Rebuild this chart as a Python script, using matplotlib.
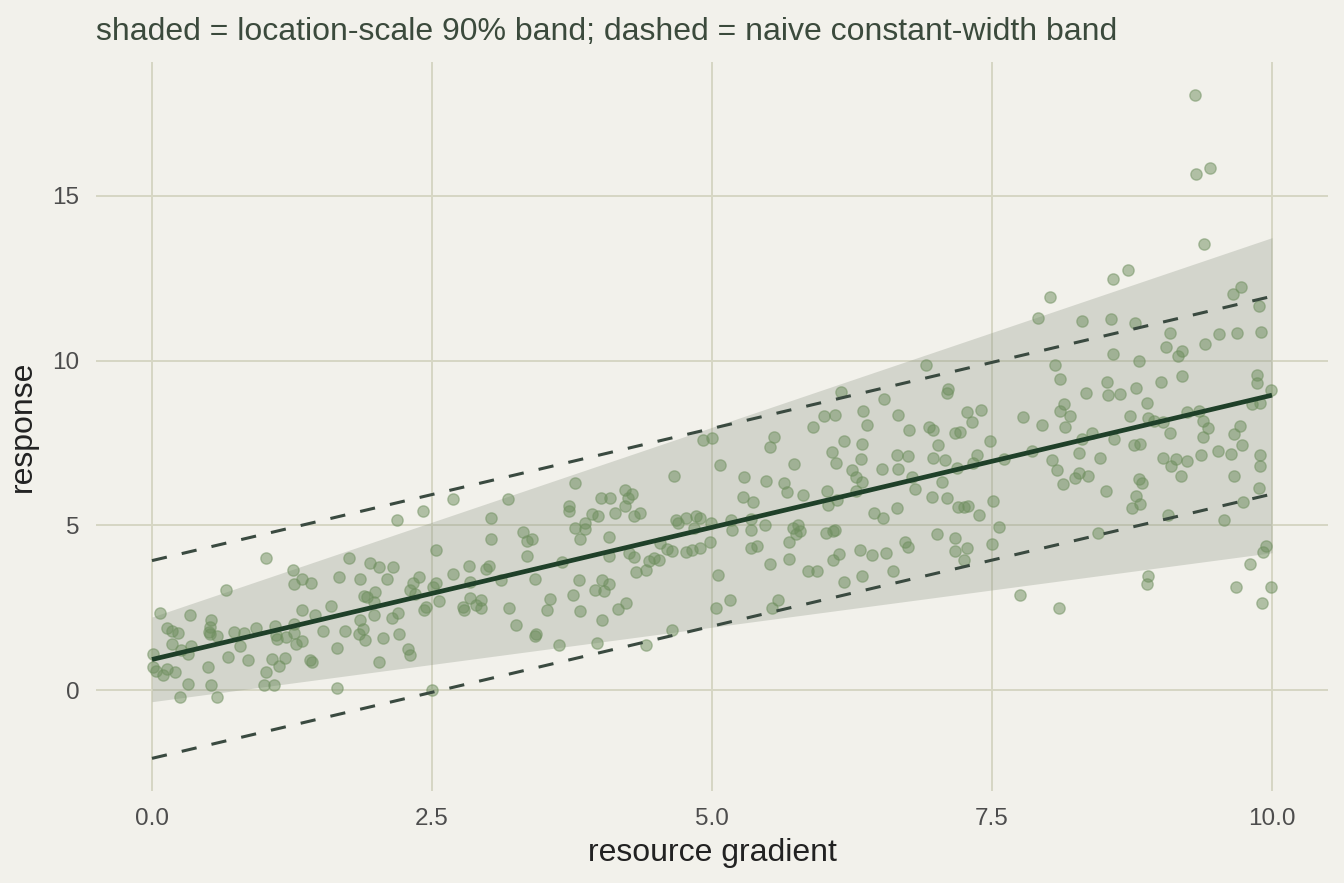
import numpy as np
import matplotlib.pyplot as plt

# scatter points (resource gradient, response)
gx = [1.02, 1.26, 1.27, 1.34, 1.42, 1.67, 0.66, 0.07, 0.34, 0.53, 0.52, 0.13, 0.18, 0.23, 0.51,
      0.52, 0.58, 0.73, 0.82, 0.93, 1.10, 1.11, 1.12, 1.20, 1.27, 1.27, 1.29, 1.34, 1.34, 1.46,
      1.53, 1.60, 1.65, 0.18, 0.26, 0.35, 0.32, 0.79, 0.01, 0.01, 0.04, 0.10, 0.13, 0.21, 0.50,
      0.68, 0.86, 1.07, 1.19, 1.02, 1.13, 1.41, 1.43, 0.32, 0.53, 1.00, 1.09, 0.25, 0.58, 1.65,
      # 1.6 - 3.3
      2.69, 3.18, 2.42, 2.19, 3.03, 3.31, 3.35, 3.35, 3.03, 2.54, 1.76, 1.95, 2.03, 2.15, 1.86,
      2.10, 2.38, 2.33, 2.30, 2.35, 2.51, 2.54, 2.69, 2.83, 2.98, 3.01, 2.84, 3.12, 1.89, 1.92,
      1.99, 1.98, 1.86, 1.98, 2.14, 2.20, 1.88, 1.85, 1.90, 1.72, 2.06, 2.21, 2.29, 2.30, 2.03,
      2.43, 2.45, 2.56, 2.78, 2.79, 2.84, 2.89, 2.94, 2.94, 3.19, 3.25, 2.50,
      # 3.3 - 5.0
      4.92, 5.00, 5.07, 4.66, 3.78, 4.22, 4.29, 4.25, 4.01, 4.09, 3.72, 3.72, 3.93, 3.98, 4.13,
      4.22, 4.30, 4.36, 3.87, 3.78, 3.87, 3.82, 4.08, 3.39, 4.68, 4.70, 4.77, 4.86, 4.89, 4.84,
      4.99, 4.54, 4.60, 4.64, 4.77, 4.82, 4.89, 4.98, 4.26, 4.30, 4.08, 3.66, 4.44, 4.48, 4.53,
      4.32, 4.41, 3.42, 3.81, 4.02, 4.08, 3.96, 4.04, 3.76, 3.55, 3.53, 3.82, 4.16, 4.23, 4.02,
      5.05, 5.04, 3.43, 3.42, 3.63, 3.97, 4.41, 4.64,
      # 5.0 - 6.8
      6.15, 6.54, 6.00, 6.10, 6.35, 6.38, 6.66, 6.76, 5.90, 5.55, 5.52, 6.18, 6.34, 6.07, 6.11,
      6.33, 6.65, 6.75, 6.52, 6.66, 6.25, 6.29, 6.34, 6.29, 5.73, 5.29, 5.48, 5.64, 5.67, 5.81,
      6.03, 6.04, 6.12, 5.28, 5.37, 6.45, 6.53, 6.65, 5.17, 5.18, 5.35, 5.35, 5.47, 5.72, 5.77,
      5.75, 5.79, 6.02, 6.08, 6.10, 5.35, 5.40, 5.69, 5.69, 5.52, 6.13, 6.08, 6.32, 6.43, 6.55,
      6.72, 6.75, 5.86, 5.94, 6.18, 6.34, 6.62, 5.16, 5.59, 5.54,
      # 6.8 - 8.4
      8.02, 7.91, 8.30, 6.91, 8.06, 8.11, 8.34, 7.11, 7.10, 8.14, 8.11, 8.20, 8.15, 7.78, 7.95,
      7.28, 7.40, 7.32, 6.94, 6.97, 7.17, 7.21, 7.48, 7.02, 6.97, 7.08, 7.19, 7.33, 7.37, 7.61,
      7.86, 8.30, 8.39, 8.28, 8.46, 8.04, 8.08, 8.24, 8.28, 8.36, 8.13, 6.79, 6.81, 7.05, 6.96,
      7.10, 7.20, 7.25, 7.29, 7.38, 7.51, 7.56, 7.01, 7.17, 7.17, 7.28, 7.25, 7.50, 8.45, 7.75,
      8.10,
      # 8.4 - 10
      9.31, 9.32, 9.45, 9.39, 8.58, 8.71, 9.72, 9.65, 9.88, 8.56, 8.78, 9.09, 9.05, 9.16, 9.20,
      9.40, 9.53, 9.69, 9.90, 8.58, 8.81, 8.53, 8.54, 8.64, 8.79, 8.88, 9.01, 9.20, 9.87, 9.87,
      9.99, 9.82, 9.89, 8.73, 8.89, 8.95, 9.03, 9.24, 9.35, 9.38, 9.43, 9.09, 9.71, 9.66, 8.59,
      8.77, 8.82, 9.38, 9.73, 9.03, 9.14, 9.10, 9.24, 9.37, 9.52, 9.63, 9.89, 9.89, 9.19, 9.66,
      8.81, 8.84, 8.52, 8.79, 8.82, 8.75, 9.07, 9.57, 9.74, 9.88, 9.95, 9.92, 9.80, 8.89, 8.88,
      9.68, 9.99, 9.91]
gy = [4.02, 3.66, 3.21, 3.38, 3.25, 3.43, 3.05, 2.34, 2.28, 2.12, 1.92, 1.89, 1.80, 1.72, 1.77,
      1.69, 1.63, 1.75, 1.74, 1.89, 1.95, 1.67, 1.54, 1.61, 2.00, 1.72, 1.39, 1.50, 2.44, 2.28,
      1.78, 2.55, 1.27, 1.41, 1.21, 1.35, 1.11, 1.34, 1.11, 0.71, 0.59, 0.47, 0.65, 0.54, 0.71,
      1.00, 0.90, 0.93, 0.97, 0.56, 0.74, 0.91, 0.84, 0.20, 0.15, 0.17, 0.17, -0.20, -0.22, 0.08,
      5.79, 5.79, 5.44, 5.15, 5.22, 4.80, 4.52, 4.06, 4.58, 4.26, 4.02, 3.87, 3.74, 3.74, 3.37,
      3.37, 3.43, 3.25, 3.05, 2.93, 3.13, 3.25, 3.53, 3.78, 3.68, 3.78, 3.29, 3.33, 2.85, 2.83,
      2.97, 2.67, 2.14, 2.29, 2.18, 2.34, 1.87, 1.71, 1.51, 1.79, 1.58, 1.69, 1.25, 1.06, 0.84,
      2.43, 2.52, 2.70, 2.52, 2.42, 2.80, 2.57, 2.73, 2.48, 2.48, 1.97, 0.00,
      7.60, 7.66, 6.84, 6.50, 6.28, 6.08, 5.96, 5.83, 5.83, 5.83, 5.58, 5.45, 5.35, 5.28, 5.37,
      5.59, 5.28, 5.37, 5.08, 4.92, 4.89, 4.59, 4.64, 4.59, 5.17, 5.07, 5.23, 5.27, 5.23, 4.93,
      5.08, 4.47, 4.27, 4.22, 4.18, 4.24, 4.30, 4.49, 4.17, 4.04, 4.07, 3.90, 3.91, 4.00, 3.94,
      3.59, 3.64, 3.38, 3.33, 3.33, 3.21, 3.05, 3.01, 2.88, 2.77, 2.42, 2.40, 2.47, 2.64, 2.14,
      3.50, 2.50, 1.70, 1.63, 1.37, 1.44, 1.37, 1.81,
      9.04, 8.83, 8.31, 8.34, 8.46, 8.04, 8.34, 7.90, 7.98, 7.68, 7.37, 7.55, 7.47, 7.23, 6.89,
      7.02, 7.15, 7.11, 6.70, 6.71, 6.69, 6.48, 6.32, 6.04, 6.85, 6.46, 6.36, 6.30, 6.00, 5.91,
      6.05, 5.61, 5.77, 5.86, 5.70, 5.38, 5.21, 5.52, 5.15, 4.87, 5.19, 4.87, 5.00, 4.93, 5.00,
      4.75, 4.83, 4.77, 4.82, 4.87, 4.31, 4.38, 4.48, 3.98, 3.83, 4.12, 3.94, 4.26, 4.11, 4.16,
      4.48, 4.34, 3.62, 3.62, 3.27, 3.45, 3.61, 2.75, 2.73, 2.48,
      11.94, 11.28, 11.21, 9.86, 9.86, 9.43, 9.03, 9.14, 9.02, 8.69, 8.46, 8.32, 7.98, 8.30, 8.04,
      8.45, 8.49, 8.13, 7.98, 7.88, 7.81, 7.82, 7.57, 7.44, 7.05, 6.98, 6.75, 6.89, 7.14, 7.02,
      7.25, 7.62, 7.81, 7.19, 7.04, 6.99, 6.68, 6.44, 6.58, 6.49, 6.24, 6.46, 6.11, 6.31, 5.86,
      5.84, 5.56, 5.56, 5.60, 5.30, 5.75, 4.96, 4.74, 4.62, 4.23, 4.30, 3.96, 4.43, 4.78, 2.90,
      2.50,
      18.05, 15.67, 15.84, 13.55, 12.47, 12.75, 12.24, 12.02, 11.66, 11.25, 11.15, 10.84, 10.42, 10.15, 10.28,
      10.49, 10.80, 10.84, 10.88, 10.21, 9.98, 9.36, 8.95, 8.98, 9.17, 8.72, 9.36, 9.53, 9.56, 9.31,
      9.11, 8.69, 8.72, 8.31, 8.25, 8.18, 8.14, 8.44, 8.47, 8.18, 7.95, 7.80, 8.03, 7.77, 7.61,
      7.43, 7.48, 7.67, 7.43, 7.04, 7.00, 6.80, 6.95, 7.12, 7.26, 7.18, 7.12, 6.81, 6.49, 6.50,
      6.40, 6.30, 6.04, 5.90, 5.65, 5.52, 5.30, 5.17, 5.71, 6.12, 4.37, 4.19, 3.84, 3.46, 3.22,
      3.12, 3.12, 2.64]

# fitted location line, location-scale band and naive constant band
fit_x = [0, 10]
fit_y = [0.93, 8.95]
band_lo = [-0.35, 4.17]
band_hi = [2.22, 13.73]
naive_half = 3.0

x_ticks = [0, 2.5, 5, 7.5, 10]
y_ticks = [0, 5, 10, 15]

BG = '#f2f1eb'
GRID = '#d6d6c3'

plt.rcParams['font.family'] = ['Liberation Sans', 'DejaVu Sans']

fig = plt.figure(figsize=(13.44, 8.83), dpi=100, facecolor=BG)
ax = fig.add_axes([0.0714, 0.1042, 0.9167, 0.8256])
ax.set_facecolor(BG)

ax.fill_between(fit_x, band_lo, band_hi, color='#8d9686', alpha=0.3, lw=0, zorder=2)
ax.scatter(gx, gy, s=66, color='#6f8f5f', alpha=0.5, edgecolors='#6f8f5f',
           linewidths=1.0, zorder=3)
ax.plot(fit_x, fit_y, color='#1f4029', lw=3.4, zorder=4, solid_capstyle='butt')
fy = np.array(fit_y)
for off in (naive_half, -naive_half):
    ax.plot(fit_x, fy + off, color='#3a4a40', lw=2.2, dashes=(5, 5), zorder=4)

ax.set_xlim(-0.5, 10.5)
ax.set_ylim(-3.06, 19.06)
ax.set_xticks(x_ticks)
ax.set_xticklabels(['0.0', '2.5', '5.0', '7.5', '10.0'])
ax.set_yticks(y_ticks)
ax.grid(True, color=GRID, lw=1.4, zorder=0)
ax.set_axisbelow(True)
for s in ax.spines.values():
    s.set_visible(False)
ax.tick_params(length=0, labelsize=17.5, labelcolor='#4d4d4d', pad=12)

ax.set_xlabel('resource gradient', fontsize=23, color='#222222', labelpad=6)
ax.set_ylabel('response', fontsize=23, color='#222222', labelpad=10)

fig.text(0.0714, 1 - 40 / 883, 'shaded = location-scale 90% band; dashed = naive constant-width band',
         fontsize=23, color='#3b4a3c', ha='left', va='baseline')

fig.savefig('out.png', dpi=100, facecolor=BG)
